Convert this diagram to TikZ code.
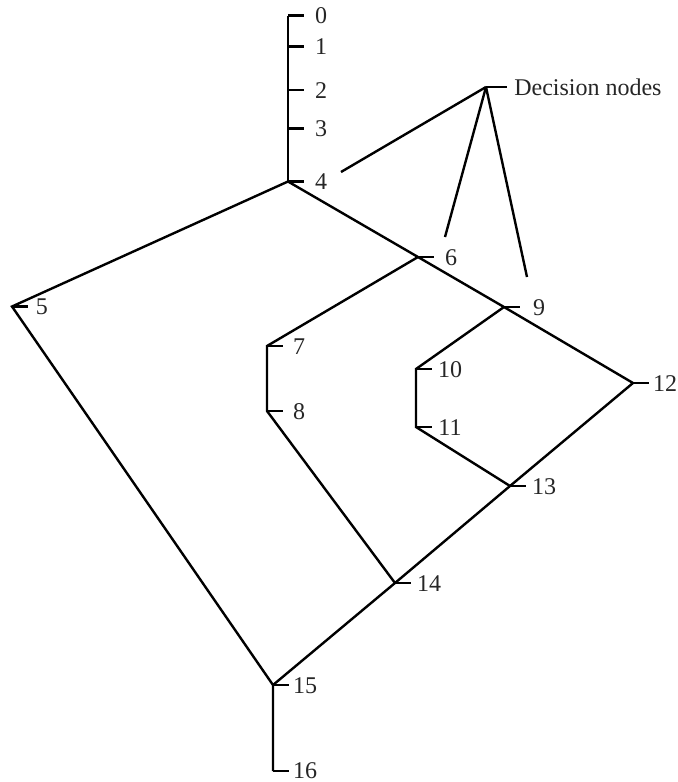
\documentclass[tikz,border=0pt]{standalone}
\usepackage{fontspec}
\setmainfont{Liberation Serif}
\begin{document}
\begin{tikzpicture}[x=0.75pt,y=-0.75pt,
  edge/.style={line width=1.8pt,line join=miter},
  tickmark/.style={line width=1.8pt},
  lab/.style={font=\fontsize{18}{21}\selectfont,inner sep=0pt,anchor=base,text=black!85}]
\useasboundingbox (0,0) rectangle (678,782);
% node points
\coordinate (n0) at (288,15.5);
\coordinate (n1) at (288,46.5);
\coordinate (n2) at (288,90);
\coordinate (n3) at (288,128.5);
\coordinate (n4) at (288,181.5);
\coordinate (n5) at (12,306.5);
\coordinate (n6) at (418,257);
\coordinate (n7) at (267,346);
\coordinate (n8) at (267,411);
\coordinate (n9) at (504,307);
\coordinate (n10) at (416,369);
\coordinate (n11) at (416,427);
\coordinate (n12) at (633,383);
\coordinate (n13) at (510,486);
\coordinate (n14) at (395,583);
\coordinate (n15) at (273,685);
\coordinate (n16) at (273,771);
\coordinate (d) at (486,87);
\coordinate (e4) at (341,172);
\coordinate (e6) at (445,237);
\coordinate (e9) at (527,277);
% edges
\draw[edge] (n0) -- (n1) -- (n2) -- (n3) -- (n4);
\draw[edge] (n4) -- (n5) -- (n15) -- (n16);
\draw[edge] (n4) -- (n6) -- (n9) -- (n12) -- (n13) -- (n14) -- (n15);
\draw[edge] (n6) -- (n7) -- (n8) -- (n14);
\draw[edge] (n9) -- (n10) -- (n11) -- (n13);
\draw[edge] (d) -- (e4);
\draw[edge] (d) -- (e6);
\draw[edge] (d) -- (e9);
% ticks
\foreach \n in {n0,n1,n2,n3,n4,n5,n6,n7,n8,n9,n10,n11,n12,n13,n14,n15,n16}
  \draw[tickmark] (\n) -- ++(16,0);
\draw[tickmark] (d) -- ++(21,0);
% labels
\node[lab] (l0) at ([xshift=33*0.75pt,yshift=-8*0.75pt]n0) {0};
\node[lab] (l1) at ([xshift=33*0.75pt,yshift=-8*0.75pt]n1) {1};
\node[lab] (l2) at ([xshift=33*0.75pt,yshift=-8*0.75pt]n2) {2};
\node[lab] (l3) at ([xshift=33*0.75pt,yshift=-8*0.75pt]n3) {3};
\node[lab] (l4) at ([xshift=33*0.75pt,yshift=-8*0.75pt]n4) {4};
\node[lab] (l5) at ([xshift=30*0.75pt,yshift=-8*0.75pt]n5) {5};
\node[lab] (l6) at ([xshift=33*0.75pt,yshift=-8*0.75pt]n6) {6};
\node[lab] (l7) at ([xshift=32*0.75pt,yshift=-8*0.75pt]n7) {7};
\node[lab] (l8) at ([xshift=32*0.75pt,yshift=-8*0.75pt]n8) {8};
\node[lab] (l9) at ([xshift=35*0.75pt,yshift=-8*0.75pt]n9) {9};
\node[lab] (l10) at ([xshift=34*0.75pt,yshift=-8*0.75pt]n10) {10};
\node[lab] (l11) at ([xshift=34*0.75pt,yshift=-8*0.75pt]n11) {11};
\node[lab] (l12) at ([xshift=32*0.75pt,yshift=-8*0.75pt]n12) {12};
\node[lab] (l13) at ([xshift=34*0.75pt,yshift=-8*0.75pt]n13) {13};
\node[lab] (l14) at ([xshift=34*0.75pt,yshift=-8*0.75pt]n14) {14};
\node[lab] (l15) at ([xshift=32*0.75pt,yshift=-8*0.75pt]n15) {15};
\node[lab] (l16) at ([xshift=32*0.75pt,yshift=-7*0.75pt]n16) {16};
\node[lab,anchor=base west] (ld) at ([xshift=28*0.75pt,yshift=-8*0.75pt]d) {Decision nodes};
\end{tikzpicture}
\end{document}
